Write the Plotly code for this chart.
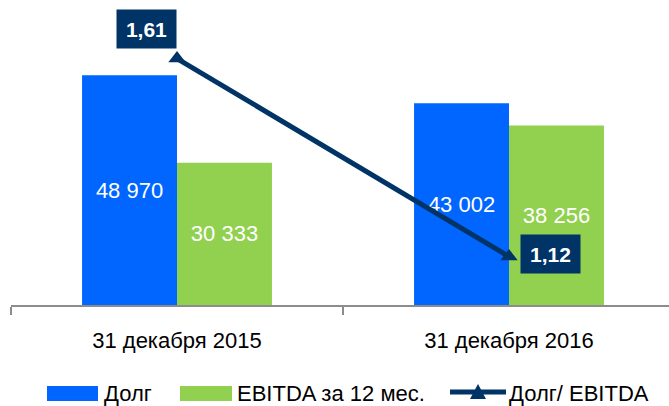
import plotly.graph_objects as go

categories = ["31 декабря 2015", "31 декабря 2016"]
debt = [48970, 43002]
ebitda = [30333, 38256]
ratio = [1.61, 1.12]
legend_names = ["Долг", "EBITDA за 12 мес.", "Долг/ EBITDA"]

BLUE = "#0066FF"
GREEN = "#92D050"
NAVY = "#003366"
FONT = "Liberation Sans, Arial, sans-serif"

W, H = 669, 406
L, R, T, B = 11, 0, 0, 101
PW, PH = W - L - R, H - T - B


def px(x):
    return (x - L) / PW


def py(y):
    return (T + PH - y) / PH


fig = go.Figure()
fig.add_trace(go.Bar(
    x=categories, y=debt, name=legend_names[0], marker_color=BLUE,
    marker_line_width=0, texttemplate="%{y:,.0f}", textposition="inside",
    insidetextanchor="middle", textangle=0,
    textfont=dict(color="white", size=22, family=FONT), showlegend=False,
))
fig.add_trace(go.Bar(
    x=categories, y=ebitda, name=legend_names[1], marker_color=GREEN,
    marker_line_width=0, texttemplate="%{y:,.0f}", textposition="inside",
    insidetextanchor="middle", textangle=0,
    textfont=dict(color="white", size=22, family=FONT), showlegend=False,
))
fig.add_trace(go.Scatter(
    x=categories, y=ratio, name=legend_names[2], yaxis="y2",
    mode="lines+markers", line=dict(color=NAVY, width=5),
    marker=dict(symbol="triangle-up", size=15, color=NAVY),
    showlegend=False,
))

# value boxes for the ratio line
shifts = [dict(xanchor="right", yanchor="bottom", xshift=0, yshift=10),
          dict(xanchor="left", yanchor="middle", xshift=11, yshift=3)]
for c, v, s in zip(categories, ratio, shifts):
    fig.add_annotation(
        x=c, y=v, xref="x", yref="y2", text=f"<b>{v:.2f}</b>".replace(".", ","),
        showarrow=False, bgcolor=NAVY, width=59, height=38, borderpad=0,
        font=dict(color="white", size=21, family=FONT), **s,
    )

# legend (drawn manually to match the wide swatches)
ly = 393.5
fig.add_shape(type="rect", xref="paper", yref="paper", x0=px(47), x1=px(98),
              y0=py(401), y1=py(386), fillcolor=BLUE, line_width=0)
fig.add_shape(type="rect", xref="paper", yref="paper", x0=px(180), x1=px(232),
              y0=py(401), y1=py(386), fillcolor=GREEN, line_width=0)
fig.add_shape(type="line", xref="paper", yref="paper", x0=px(450), x1=px(506),
              y0=py(392), y1=py(392), line=dict(color=NAVY, width=5))
fig.add_shape(type="path", xref="paper", yref="paper",
              path=f"M {px(470)},{py(399)} L {px(486)},{py(399)} L {px(478)},{py(384)} Z",
              fillcolor=NAVY, line_width=0)
for xpos, name in zip([102, 235, 507], legend_names):
    fig.add_annotation(x=px(xpos), y=py(ly), xref="paper", yref="paper",
                       text=name, showarrow=False, xanchor="left", yanchor="middle",
                       font=dict(size=22, color="black", family=FONT))

fig.update_layout(
    width=W, height=H, margin=dict(l=L, r=R, t=T, b=B),
    paper_bgcolor="white", plot_bgcolor="white",
    barmode="group", bargap=0.428, bargroupgap=0,
    separators=", ",
    font=dict(family=FONT, size=22, color="black"),
    xaxis=dict(type="category", range=[-0.5, -0.5 + PW / 332],
               showline=True, linecolor="#8c8c8c", linewidth=1.5,
               ticks="outside", tickson="boundaries", ticklen=8,
               tickcolor="#8c8c8c", tickwidth=1.5, ticklabelstandoff=15,
               tickfont=dict(size=22, color="black", family=FONT),
               showgrid=False, zeroline=False),
    yaxis=dict(range=[0, 65000], visible=False, showgrid=False, zeroline=False),
    yaxis2=dict(range=[1.0, 1.755], overlaying="y", visible=False,
                showgrid=False, zeroline=False),
    showlegend=False,
)

fig.write_html(
    "out.html",
    config={"displayModeBar": False},
    post_script="document.body.style.margin='0';document.body.style.overflow='hidden';",
)
